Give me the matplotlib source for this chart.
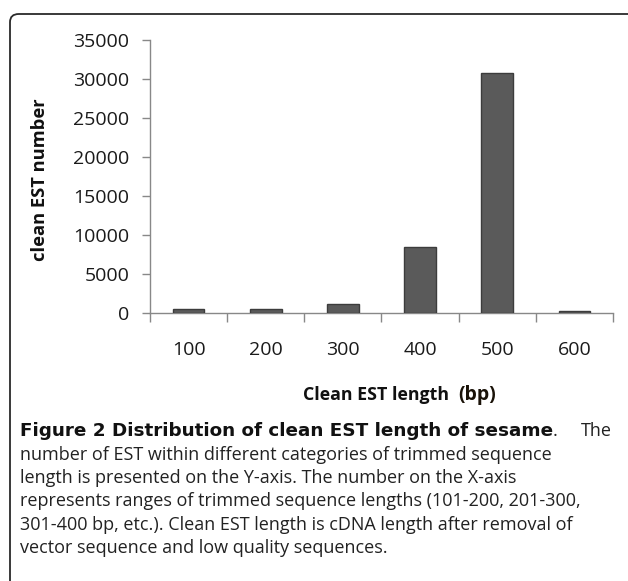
import matplotlib
matplotlib.use("Agg")
import matplotlib.pyplot as plt
from matplotlib.patches import FancyBboxPatch

categories = ["100", "200", "300", "400", "500", "600"]
values = [500, 500, 1100, 8500, 30800, 250]
yticks = [0, 5000, 10000, 15000, 20000, 25000, 30000, 35000]

caption_bold = "Figure 2 Distribution of clean EST length of sesame"
caption_rest = "The"
caption_lines = [
    "number of EST within different categories of trimmed sequence",
    "length is presented on the Y-axis. The number on the X-axis",
    "represents ranges of trimmed sequence lengths (101-200, 201-300,",
    "301-400 bp, etc.). Clean EST length is cDNA length after removal of",
    "vector sequence and low quality sequences.",
]

W, H = 628, 581
fig = plt.figure(figsize=(W / 100, H / 100), dpi=100)
plt.rcParams['font.family'] = ['Open Sans', 'DejaVu Sans']

def fx(px):
    return px / W

def fy(py):
    return 1 - py / H

# rounded frame
frame = FancyBboxPatch((fx(10), fy(600)), fx(640) - fx(10), fy(14) - fy(600),
                       boxstyle="round,pad=0,rounding_size=0.014",
                       transform=fig.transFigure, fill=False,
                       edgecolor="#2a2a2a", linewidth=1.3, clip_on=False)
fig.patches.append(frame)

left, right, top, bottom = 150, 613, 40, 313
ax = fig.add_axes([fx(left), fy(bottom), fx(right) - fx(left), fy(top) - fy(bottom)])

x = list(range(len(categories)))
ax.bar(x, values, width=0.41, color="#5a5a5a", edgecolor="#3c3c3c", linewidth=1.0, zorder=3)

ax.set_xlim(-0.5, len(categories) - 0.5)
ax.set_ylim(0, 35000)
ax.set_yticks(yticks)
ax.set_yticklabels([str(v) for v in yticks], fontsize=14, color="#1a1a1a")
ax.set_xticks(x)
ax.set_xticklabels(categories, fontsize=14, color="#1a1a1a")
ax.set_xticks([i - 0.5 for i in range(len(categories) + 1)], minor=True)
ax.tick_params(axis='x', which='major', length=0, pad=20)
ax.tick_params(axis='x', which='minor', length=6.5, width=1.0, color="#888888")
ax.tick_params(axis='y', which='major', length=6, width=1.0, color="#888888", pad=9)

for s in ["top", "right"]:
    ax.spines[s].set_visible(False)
for s in ["left", "bottom"]:
    ax.spines[s].set_color("#888888")
    ax.spines[s].set_linewidth(1.0)

fig.text(fx(40), fy(180), "clean EST number", rotation=90, ha="center", va="center",
         fontsize=13.2, fontweight="bold", color="#111111")

xl = fig.text(fx(303), fy(395), "Clean EST length  ", ha="left", va="center",
              fontsize=12.8, fontweight="bold", color="#111111")
ax.annotate("(bp)", xy=(1, 0.5), xycoords=xl, ha="left", va="center",
            fontsize=14, fontweight="bold", color="#1a1208")

cap_fs = 13.0
b = fig.text(fx(20), fy(431), caption_bold, ha="left", va="center",
             fontsize=13.2, fontweight="bold", color="#111111", family="DejaVu Sans")
fig.canvas.draw()
ax.annotate(".", xy=(1, 0.5), xycoords=b, ha="left", va="center",
            fontsize=cap_fs, color="#222222")
fig.text(fx(612), fy(431), caption_rest, ha="right", va="center",
         fontsize=cap_fs, color="#222222")

ys = [455, 478, 501, 525, 548]
for line, yy in zip(caption_lines, ys):
    fig.text(fx(20), fy(yy), line, ha="left", va="center", fontsize=cap_fs, color="#222222")

fig.savefig("out.png", dpi=100)
